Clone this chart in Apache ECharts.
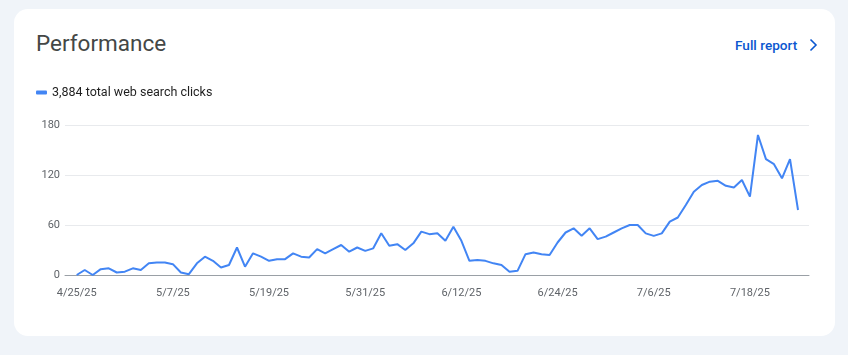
<!DOCTYPE html>
<html>
<head>
<meta charset="utf-8">
<script src="https://cdn.jsdelivr.net/npm/echarts@6/dist/echarts.min.js"></script>
<style>
  html, body { margin: 0; padding: 0; width: 848px; height: 355px; background: #f0f4f9; overflow: hidden; font-family: Roboto, "Noto Sans", sans-serif; }
  .card { position: absolute; left: 14px; top: 9px; width: 821px; height: 327px; background: #fff; border-radius: 14px; }
  .title { position: absolute; left: 36px; top: 28px; font-size: 22.5px; color: #444746; line-height: 30px; }
  .link { position: absolute; left: 735px; top: 35px; font-size: 13.6px; font-weight: 500; color: #0b57d0; line-height: 20px; }
  .chev { position: absolute; left: 806px; top: 36px; width: 14px; height: 18px; }
  #chart { position: absolute; left: 0; top: 0; width: 848px; height: 355px; }
</style>
</head>
<body>
<div class="card"></div>
<div class="title">Performance</div>
<div class="link">Full report</div>
<svg class="chev" viewBox="0 0 14 18"><path d="M4.5 3.5 L10 9 L4.5 14.5" fill="none" stroke="#0b57d0" stroke-width="1.6"/></svg>
<div id="chart"></div>
<script>
// daily clicks, 4/25/25 .. 7/24/25
var clicks = [
  0, 6, 0, 7, 8, 3, 4, 8, 6, 14, 15, 15, 13, 3, 1,
  14, 22, 17, 9, 12, 33, 10, 26, 22, 17, 19, 19, 26, 22, 21, 31,
  26, 31, 36, 28, 33, 29, 32, 50, 35, 37, 30, 38, 52, 49, 50, 41,
  58, 41, 17, 18, 17, 14, 12, 4, 5, 25, 27, 25, 24, 39, 51,
  56, 47, 56, 43, 46, 51, 56, 60, 60, 50, 47, 50, 64, 69, 84, 100,
  108, 112, 113, 107, 105, 114, 94, 168, 139, 133, 116, 139, 78
];
var tickLabels = ["4/25/25", "5/7/25", "5/19/25", "5/31/25", "6/12/25", "6/24/25", "7/6/25", "7/18/25"];
var tickDays = [0, 12, 24, 36, 48, 60, 72, 84];
var yTicks = [0, 60, 120, 180];
var seriesName = "3,884 total web search clicks";

var chart = echarts.init(document.getElementById("chart"));
chart.setOption({
  animation: false,
  legend: {
    left: 31,
    top: 81,
    icon: "roundRect",
    itemWidth: 11,
    itemHeight: 4,
    selectedMode: false,
    textStyle: { fontFamily: "Roboto", fontSize: 12.5, color: "#1f1f1f" },
    data: [seriesName]
  },
  grid: { left: 65, right: 39, top: 125, bottom: 80 },
  xAxis: {
    type: "value",
    min: -1.46,
    max: 91.37,
    axisLine: { lineStyle: { color: "#9aa0a6" } },
    axisTick: { show: false },
    splitLine: { show: false },
    axisLabel: {
      customValues: tickDays,
      margin: 13,
      fontFamily: "Roboto",
      fontSize: 11,
      color: "#5f6368",
      formatter: function (v) { return tickLabels[tickDays.indexOf(v)]; }
    }
  },
  yAxis: {
    type: "value",
    min: yTicks[0],
    max: yTicks[yTicks.length - 1],
    interval: 60,
    axisLine: { show: false },
    axisTick: { show: false },
    splitLine: { lineStyle: { color: "#e8eaed" } },
    axisLabel: { margin: 5, fontFamily: "Roboto", fontSize: 11, color: "#5f6368" }
  },
  series: [{
    name: seriesName,
    type: "line",
    showSymbol: false,
    color: "#4285f4",
    lineStyle: { width: 2 },
    data: clicks.map(function (v, i) { return [i, v]; })
  }]
});
</script>
</body>
</html>
